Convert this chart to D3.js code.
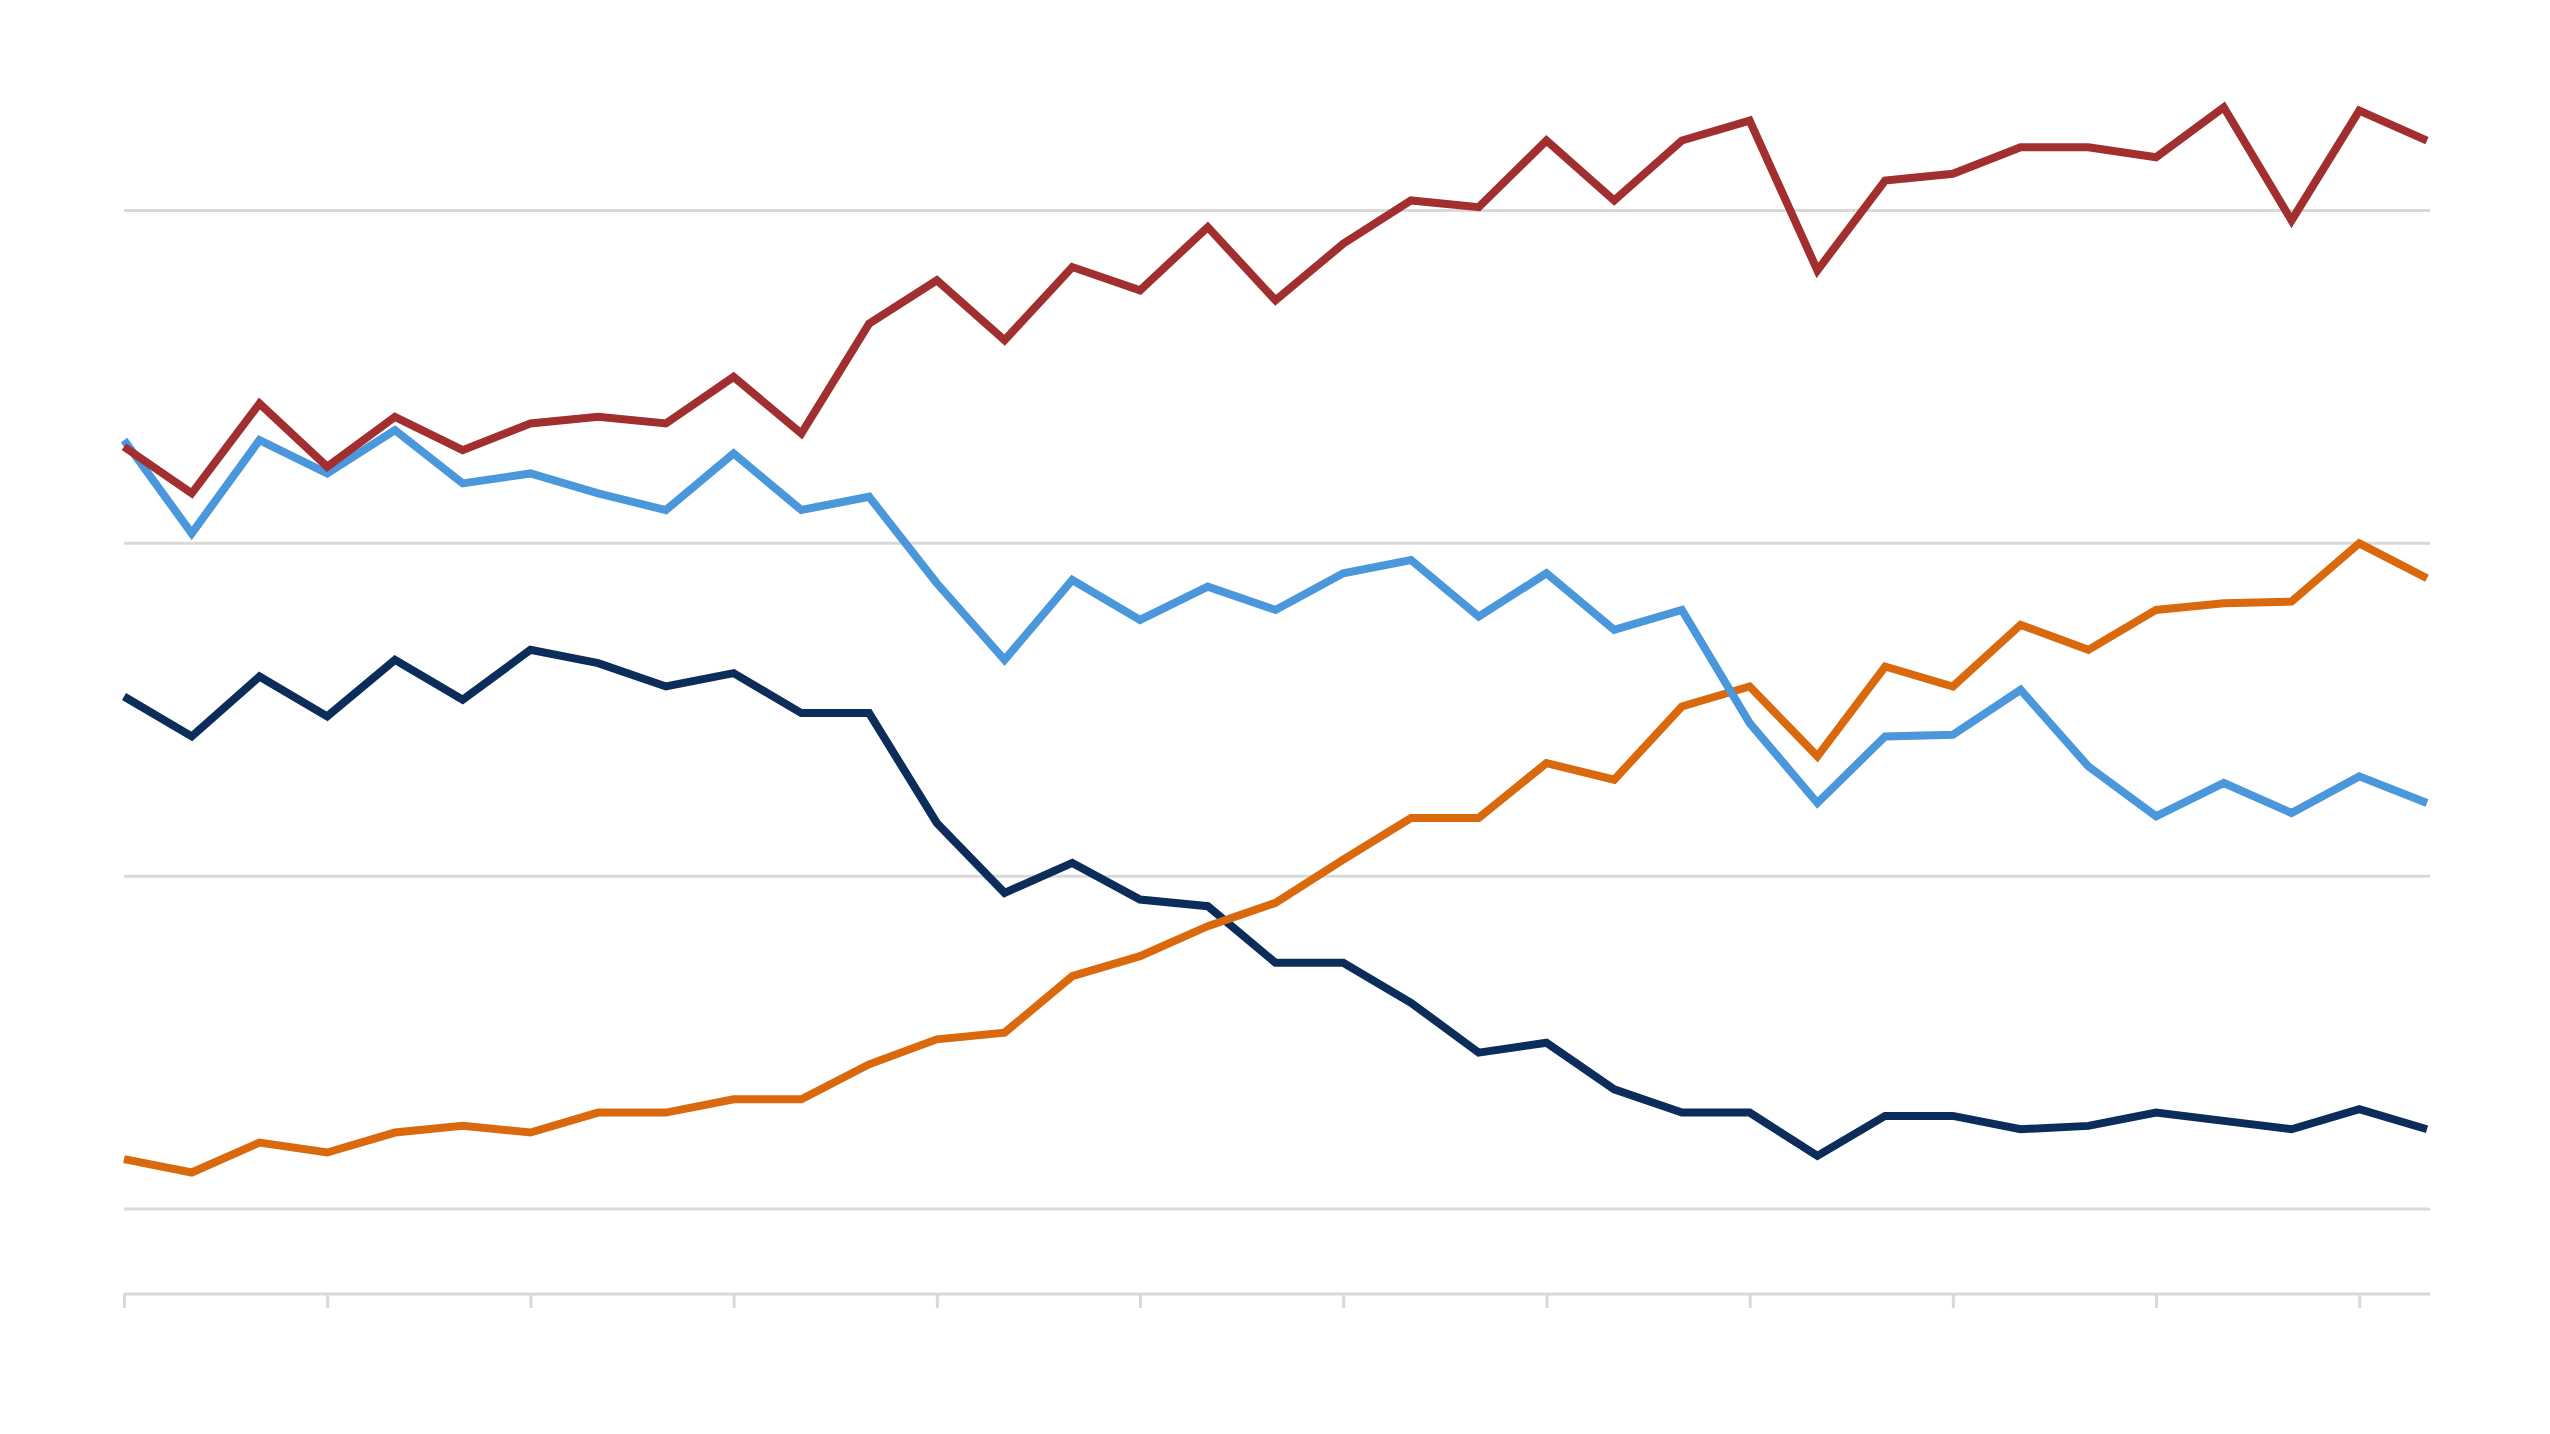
<!DOCTYPE html>
<html>
<head>
<meta charset="utf-8">
<script src="https://cdn.jsdelivr.net/npm/d3@7"></script>
<style>
  html, body { margin: 0; padding: 0; background: #ffffff; }
  svg { display: block; }
</style>
</head>
<body>
<div id="chart"></div>
<script>
// ---- data (one value per period, 35 periods) ----
const periods = d3.range(35);               // period index along the x axis
const tickPeriods = [0, 3, 6, 9, 12, 15, 18, 21, 24, 27, 30, 33];
const gridValues = [10, 20, 30, 40];

const redSeries = [32.9, 31.5, 34.2, 32.3, 33.8, 32.8, 33.6, 33.8, 33.6, 35.0,
                   33.3, 36.6, 37.9, 36.1, 38.3, 37.6, 39.5, 37.3, 39.0, 40.3,
                   40.1, 42.1, 40.3, 42.1, 42.7, 38.2, 40.9, 41.1, 41.9, 41.9,
                   41.6, 43.1, 39.7, 43.0, 42.1];
const blueSeries = [33.1, 30.3, 33.1, 32.1, 33.4, 31.8, 32.1, 31.5, 31.0, 32.7,
                    31.0, 31.4, 28.8, 26.5, 28.9, 27.7, 28.7, 28.0, 29.1, 29.5,
                    27.8, 29.1, 27.4, 28.0, 24.6, 22.2, 24.2, 24.25, 25.6, 23.3,
                    21.8, 22.8, 21.9, 23.0, 22.2];
const navySeries = [25.4, 24.2, 26.0, 24.8, 26.5, 25.3, 26.8, 26.4, 25.7, 26.1,
                    24.9, 24.9, 21.6, 19.5, 20.4, 19.3, 19.1, 17.4, 17.4, 16.2,
                    14.7, 15.0, 13.6, 12.9, 12.9, 11.6, 12.8, 12.8, 12.4, 12.5,
                    12.9, 12.65, 12.4, 13.0, 12.4];
const orangeSeries = [11.5, 11.1, 12.0, 11.7, 12.3, 12.5, 12.3, 12.9, 12.9, 13.3,
                      13.3, 14.35, 15.1, 15.3, 17.0, 17.6, 18.5, 19.2, 20.5, 21.75,
                      21.75, 23.4, 22.9, 25.1, 25.7, 23.6, 26.3, 25.7, 27.55, 26.8,
                      28.0, 28.2, 28.25, 30.0, 28.95];

const seriesNames = ["navy", "orange", "blue", "red"];   // drawing order
const seriesValues = [navySeries, orangeSeries, blueSeries, redSeries];
const seriesColors = ["#0c2c5a", "#d9690c", "#4a97db", "#a22f30"];

// ---- layout ----
const W = 2550, H = 1434;
const svg = d3.select("#chart").append("svg").attr("width", W).attr("height", H);

const x = d3.scaleLinear().domain([0, 34]).range([124, 2427]);
const y = d3.scaleLinear().domain([7.45, 45]).range([1294, 44]);

// gridlines
svg.append("g")
  .selectAll("line")
  .data(gridValues)
  .join("line")
  .attr("x1", x(0))
  .attr("x2", x(34) + 3)
  .attr("y1", d => y(d))
  .attr("y2", d => y(d))
  .attr("stroke", "#d9d9d9")
  .attr("stroke-width", 3);

// x axis (ticks, no labels)
const xAxis = d3.axisBottom(x)
  .tickValues(tickPeriods)
  .tickSize(14)
  .tickSizeOuter(0)
  .tickFormat("");
const gx = svg.append("g")
  .attr("transform", `translate(0,${y(7.45)})`)
  .call(xAxis);
gx.select(".domain").attr("stroke", "#d9d9d9").attr("stroke-width", 3)
  .attr("d", `M${x(0)},0H${x(34) + 3}`);
gx.selectAll(".tick line").attr("stroke", "#d9d9d9").attr("stroke-width", 3);

// lines
const line = d3.line()
  .x((d, i) => x(periods[i]))
  .y(d => y(d));

svg.append("g")
  .selectAll("path")
  .data(seriesValues)
  .join("path")
  .attr("class", (d, i) => "series-" + seriesNames[i])
  .attr("d", line)
  .attr("fill", "none")
  .attr("stroke", (d, i) => seriesColors[i])
  .attr("stroke-width", 8)
  .attr("stroke-linejoin", "miter");
</script>
</body>
</html>
